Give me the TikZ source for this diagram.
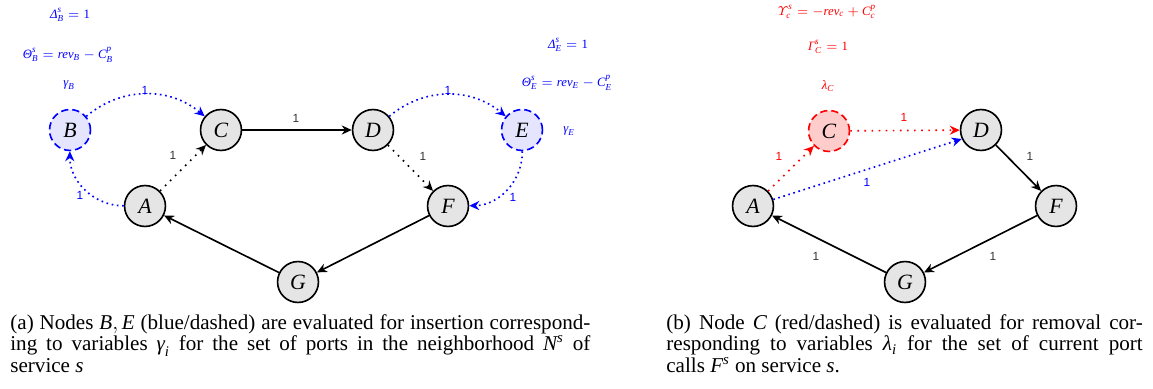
\documentclass[tikz,border=0pt]{standalone}
\usepackage{amsmath}
\usepackage{fontspec}
\setmainfont{Liberation Serif}
\newfontfamily\lsans{Liberation Sans}
\usetikzlibrary{arrows.meta}
\newcommand\ti[1]{\text{\normalfont\itshape #1}}
\begin{document}
\begin{tikzpicture}[x=0.55pt,y=-0.55pt,
  vtx/.style={circle,draw=black,line width=0.9pt,fill=black!10,minimum size=22.5pt,inner sep=0pt,font=\large\itshape},
  ins/.style={vtx,draw=blue,fill=blue!10,dash pattern=on 4pt off 2.2pt},
  rem/.style={vtx,draw=red,fill=red!20,dash pattern=on 4pt off 2.2pt},
  arr/.style={line width=0.9pt,-{Stealth[length=5.5pt,width=5pt,inset=1.8pt]}},
  dotblue/.style={arr,blue,dash pattern=on 0.9pt off 2pt},
  dotred/.style={arr,red,dash pattern=on 0.9pt off 3pt},
  dotblack/.style={arr,black,dash pattern=on 0.9pt off 3pt},
  elab/.style={font=\lsans\fontsize{6.5}{8}\selectfont,inner sep=0pt},
  mlab/.style={font=\scriptsize,inner sep=0pt},
  captext/.style={anchor=north west,inner sep=0pt,align=justify,font=\fontsize{11.6}{11.9}\selectfont}
]
\useasboundingbox (0,0) rectangle (1153,389);

% ---------- left panel ----------
\node[ins] (B) at (70,130) {B};
\node[vtx] (C) at (221,130) {C};
\node[vtx] (D) at (373,130) {D};
\node[ins] (E) at (522,130) {E};
\node[vtx] (A) at (145,206) {A};
\node[vtx] (F) at (448,206) {F};
\node[vtx] (G) at (298,282) {G};

\draw[dotblue] (B) to[bend left=40] (C);
\draw[dotblue] (D) to[bend left=40] (E);
\draw[dotblue] (A) to[bend left=45] (B);
\draw[dotblue] (E) to[bend left=45] (F);
\draw[dotblack] (A) -- (C);
\draw[dotblack] (D) -- (F);
\draw[arr] (C) -- (D);
\draw[arr] (F) -- (G);
\draw[arr] (G) -- (A);

\node[elab,blue] (lBC) at (145,90) {1};
\node[elab,blue] (lDE) at (448,90) {1};
\node[elab,blue] (lAB) at (80,195) {1};
\node[elab,blue] (lEF) at (513,197) {1};
\node[elab,black!80] (lAC) at (173,155) {1};
\node[elab,black!80] (lCD) at (296,118) {1};
\node[elab,black!80] (lDF) at (423,156) {1};

\node[mlab,blue] (dB) at (70,15) {$\ti{Δ}^{\ti{s}}_{\ti{B}} = \text{1}$};
\node[mlab,blue] (tB) at (68,55) {$\ti{Θ}^{\ti{s}}_{\ti{B}} = \ti{rev}_{\ti{B}} - \ti{C}^{\ti{p}}_{\ti{B}}$};
\node[mlab,blue] (gB) at (69,85) {$\ti{γ}_{\ti{B}}$};
\node[mlab,blue] (dE) at (568,45) {$\ti{Δ}^{\ti{s}}_{\ti{E}} = \text{1}$};
\node[mlab,blue] (tE) at (567,83) {$\ti{Θ}^{\ti{s}}_{\ti{E}} = \ti{rev}_{\ti{E}} - \ti{C}^{\ti{p}}_{\ti{E}}$};
\node[mlab,blue] (gE) at (569,131) {$\ti{γ}_{\ti{E}}$};

% ---------- right panel ----------
\node[vtx] (A2) at (753,206) {A};
\node[rem] (C2) at (829,131) {C};
\node[vtx] (D2) at (981,130) {D};
\node[vtx] (F2) at (1056,206) {F};
\node[vtx] (G2) at (905,282) {G};

\draw[dotred] (A2) -- (C2);
\draw[dotred] (C2) -- (D2);
\draw[dotblue] (A2) -- (D2.205);
\draw[arr] (D2) -- (F2);
\draw[arr] (F2) -- (G2);
\draw[arr] (G2) -- (A2);

\node[elab,red] (lAC2) at (779,156) {1};
\node[elab,red] (lCD2) at (904,117) {1};
\node[elab,blue] (lAD2) at (867,182) {1};
\node[elab,black!80] (lDF2) at (1030,156) {1};
\node[elab,black!80] (lFG2) at (993,256) {1};
\node[elab,black!80] (lGA2) at (816,256) {1};

\node[mlab,red] (uC) at (827,12) {$\varUpsilon^{\ti{s}}_{\ti{c}} = -\ti{rev}_{\ti{c}} + \ti{C}^{\ti{p}}_{\ti{c}}$};
\node[mlab,red] (gC) at (828,47) {$\ti{Γ}^{\ti{s}}_{\ti{C}} = \text{1}$};
\node[mlab,red] (lC) at (828,86) {$\ti{λ}_{\ti{C}}$};

% ---------- captions ----------
\node[captext,text width=319pt] (capa) at (10,314) {(a) Nodes $\ti{B},\ti{E}$ (blue/dashed) are evaluated for insertion correspond-\linebreak ing to variables $\ti{γ}_{\ti{i}}$ for the set of ports in the neighborhood $\ti{N}^{\ti{s}}$ of\linebreak service $\ti{s}$};
\node[captext,text width=262pt] (capb) at (666,314) {(b) Node $\ti{C}$ (red/dashed) is evaluated for removal cor-\linebreak responding to variables $\ti{λ}_{\ti{i}}$ for the set of current port\linebreak calls $\ti{F}^{\ti{s}}$ on service $\ti{s}$.};
\end{tikzpicture}
\end{document}
